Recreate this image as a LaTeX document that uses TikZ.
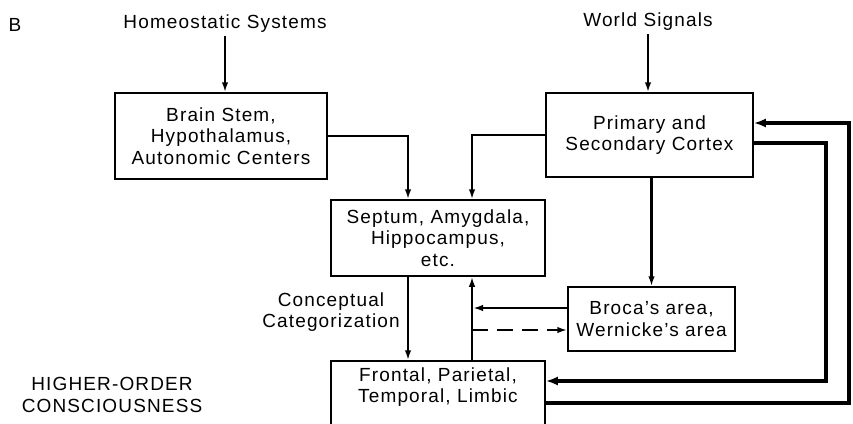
\documentclass[tikz,border=0pt]{standalone}
\usepackage{fontspec}
\setmainfont{Liberation Sans}[LetterSpace=6]
\usetikzlibrary{arrows.meta,calc}

\tikzset{
  box/.style={draw, line width=1.5pt, align=center, inner sep=0pt},
  link/.style={line width=2.3pt, -{Latex[length=10pt,width=6.5pt]}},
  heavy link/.style={line width=4.5pt, -{Latex[length=12pt,width=9pt]}},
}

\begin{document}
\begin{tikzpicture}[x=1pt,y=-1pt,font=\fontsize{19}{21.5}\selectfont]
                \useasboundingbox (0,0) rectangle (853,423);
                \clip (0,0) rectangle (853,423);
                % boxes
                \node[box, minimum width=212pt, minimum height=86pt] (brain) at (221,136) {Brain Stem,\\ Hypothalamus,\\ Autonomic Centers};
                \node[box, minimum width=207pt, minimum height=84pt] (primary) at (649.5,135) {Primary and\\ Secondary Cortex};
                \node[box, minimum width=214pt, minimum height=76pt] (septum) at (438,238) {Septum, Amygdala,\\ Hippocampus,\\ etc.};
                \node[box, minimum width=167pt, minimum height=64pt] (broca) at (651.5,319) {Broca's area,\\ Wernicke's area};
                \node[box, minimum width=214pt, minimum height=76pt] (frontal) at (438,399) {Frontal, Parietal,\\ Temporal, Limbic\\ \strut};
                % labels
                \node (panel) at (15,25) {B};
                \node (homeo) at (225,24) {Homeostatic Systems};
                \node (world) at (648,22) {World Signals};
                \node[align=center] (concept) at (331,312) {Conceptual\\ Categorization};
                \node[align=center] (hoc) at (112,395) {HIGHER-ORDER\\ CONSCIOUSNESS};
                % inputs
                \draw[link] (homeo) -- (homeo |- brain.north);
                \draw[link] (world) -- (world |- primary.north);
                \draw[link] (brain.east) -| ([xshift=-30pt]septum.north);
                \draw[link] (primary.west) -| ([xshift=34pt]septum.north);
                \draw[link] (broca.north |- primary.south) -- (broca.north);
                % septum <-> frontal
                \coordinate (upx) at ([xshift=34pt]septum.south);
                \draw[link] ([xshift=-30pt]septum.south) -- ([xshift=-30pt]frontal.north);
                \draw[link] ([xshift=34pt]frontal.north) -- (upx);
                \draw[link, shorten >=1pt] ([yshift=11pt]broca.west) -- ([yshift=11pt]broca.west -| upx);
                \draw[link, dash pattern=on 16pt off 9pt] ([yshift=-11pt]broca.west -| upx) -- ([yshift=-11pt]broca.west);
                % reentrant loops
                \coordinate (loopin) at (826,381);
                \coordinate (loopout) at (849,123);
                \draw[heavy link] ([yshift=-8pt]primary.east) -| (loopin) -- (loopin -| frontal.east);
                \draw[heavy link] ([yshift=-4pt]frontal.east) -| (loopout) -- (loopout -| primary.east);
            \end{tikzpicture}
\end{document}
